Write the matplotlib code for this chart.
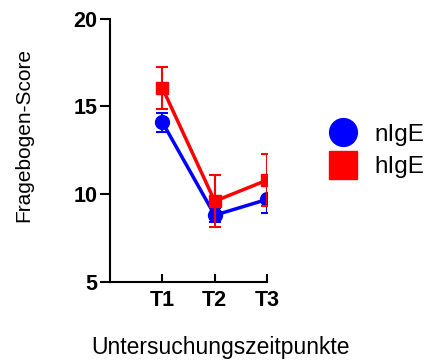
import matplotlib.pyplot as plt
from matplotlib.lines import Line2D

plt.rcParams['font.family'] = ['Liberation Sans', 'DejaVu Sans']

# ===== Daten =====
zeitpunkte = ["T1", "T2", "T3"]
nige_mean = [14.1, 8.8, 9.7]
nige_err = [0.55, 0.4, 0.75]
hige_mean = [16.05, 9.6, 10.8]
hige_err = [1.22, 1.5, 1.5]

x = [1, 2, 3]

fig = plt.figure(figsize=(4.3, 3.6), dpi=100)
ax = fig.add_axes([0.256, 0.217, 0.365, 0.731])

ax.errorbar(x, nige_mean, yerr=nige_err, color="#0000ff", marker="o",
            markersize=10, linewidth=2.5, capsize=4.5, elinewidth=1.5,
            capthick=1.5, zorder=2)
ax.errorbar(x, hige_mean, yerr=hige_err, color="#ff0000", marker="s",
            markersize=9, linewidth=2.5, capsize=4.5, elinewidth=1.5,
            capthick=1.5, zorder=3)

ax.set_xlim(0, 3)
ax.set_ylim(5, 20)
ax.set_xticks(x)
ax.set_xticklabels(zeitpunkte, fontsize=15.5, fontweight="bold")
ax.set_yticks([5, 10, 15, 20])
ax.set_yticklabels(["5", "10", "15", "20"], fontsize=15.5, fontweight="bold")
ax.tick_params(axis="y", direction="out", length=7, width=1.5, pad=2)
ax.tick_params(axis="x", direction="in", length=6, width=1.5, pad=6)

for side in ["top", "right"]:
    ax.spines[side].set_visible(False)
for side in ["left", "bottom"]:
    ax.spines[side].set_linewidth(1.5)

fig.text(0.056, 0.625, "Fragebogen-Score", rotation=90, fontsize=15,
         ha="center", va="center")
fig.text(0.512, 0.036, "Untersuchungszeitpunkte", fontsize=16.5,
         ha="center", va="center")

handles = [
    Line2D([], [], color="#0000ff", marker="o", linestyle="none", markersize=20),
    Line2D([], [], color="#ff0000", marker="s", linestyle="none", markersize=20),
]
fig.legend(handles, ["nIgE", "hIgE"], loc="center left",
           bbox_to_anchor=(0.714, 0.581), frameon=False, fontsize=17.5,
           handletextpad=0.66, labelspacing=0.43, handlelength=1.2)

fig.savefig("out.png", dpi=100)
